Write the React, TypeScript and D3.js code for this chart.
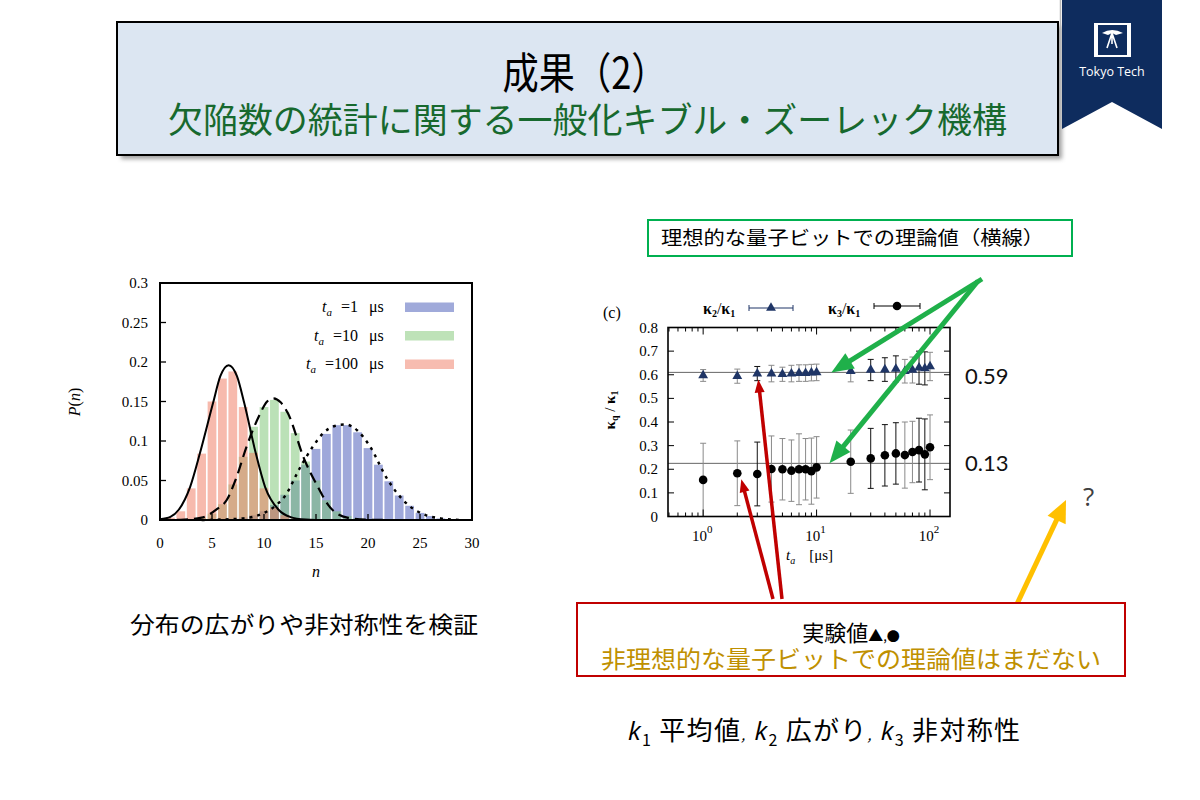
import React from 'react';
import * as d3 from 'd3';

// ---------- Left chart: histogram of defect number n ----------
const nCategories = [0,1,2,3,4,5,6,7,8,9,10,11,12,13,14,15,16,17,18,19,20,21,22,23,24,25,26,27,28,29];
const pTa1 = [0,0,0,0,0,0,0,0.001,0.003,0.006,0.011,0.019,0.032,0.05,0.07,0.09,0.109,0.12,0.12,0.111,0.091,0.07,0.049,0.031,0.018,0.009,0.005,0.002,0.001,0];
const pTa10 = [0,0,0,0.001,0.003,0.008,0.02,0.045,0.08,0.118,0.143,0.152,0.137,0.11,0.074,0.05,0.025,0.011,0.005,0.002,0.001,0,0,0,0,0,0,0,0,0];
const pTa100 = [0,0.003,0.011,0.04,0.084,0.15,0.179,0.188,0.143,0.085,0.04,0.016,0.006,0.002,0,0,0,0,0,0,0,0,0,0,0,0,0,0,0,0];
const legendTa = ['1', '10', '100'];
const histTicksX = [0, 5, 10, 15, 20, 25, 30];
const histTicksY = [0, 0.05, 0.1, 0.15, 0.2, 0.25, 0.3];

// theory curves
const fit100N = [0, 1, 1.8, 2.9, 3.85, 5.1, 5.8, 6.6, 7.4, 8.1, 9.2, 10.1, 11.4, 12.5, 14, 15];
const fit100P = [0.001, 0.004, 0.013, 0.042, 0.085, 0.148, 0.182, 0.196, 0.182, 0.148, 0.085, 0.042, 0.013, 0.004, 0.0005, 0];
const fit10N = [0, 2, 4, 5.5, 6.4, 7.3, 8.3, 9.5, 10.3, 10.9, 11.6, 12.3, 13.9, 15.1, 16.3, 18, 20, 22];
const fit10P = [0, 0.0003, 0.003, 0.014, 0.025, 0.052, 0.092, 0.131, 0.15, 0.154, 0.149, 0.135, 0.076, 0.044, 0.017, 0.003, 0.0005, 0];
const fit1N = [4, 8, 10, 11, 12, 13.5, 14.7, 15.7, 16.8, 17.8, 19, 20.2, 21.8, 23.7, 25.6, 27, 29];
const fit1P = [0, 0.002, 0.009, 0.017, 0.03, 0.067, 0.093, 0.11, 0.119, 0.121, 0.113, 0.093, 0.053, 0.021, 0.006, 0.002, 0];

// ---------- Right chart: cumulant ratios vs t_a ----------
const taValues = [1,2,3,4,5,6,7,8,9,10,20,30,40,50,60,70,80,90,100];
const k2Ratio = [0.597,0.594,0.605,0.605,0.602,0.605,0.607,0.607,0.609,0.61,0.615,0.62,0.622,0.625,0.615,0.62,0.63,0.627,0.635];
const k2Err = [0.025,0.03,0.03,0.035,0.03,0.035,0.035,0.035,0.035,0.035,0.045,0.045,0.05,0.055,0.05,0.055,0.07,0.07,0.06];
const k3Ratio = [0.155,0.183,0.18,0.201,0.2,0.194,0.2,0.2,0.192,0.208,0.232,0.246,0.259,0.267,0.26,0.273,0.281,0.263,0.293];
const k3Err = [0.155,0.137,0.135,0.14,0.13,0.13,0.15,0.13,0.14,0.13,0.134,0.127,0.13,0.13,0.14,0.13,0.135,0.15,0.137];
const darkErrTa = [3, 30, 40, 50, 80, 90];
const k2Ideal = 0.61;
const k3Ideal = 0.225;
const ratioTicksY = [0, 0.1, 0.2, 0.3, 0.4, 0.5, 0.6, 0.7, 0.8];
const logMajorTicks = [1, 10, 100];
const idealLabels = ['0.59', '0.13'];

const SERIF = "'Liberation Serif','DejaVu Serif',serif";
const JP = "'Noto Sans CJK JP','Noto Sans',sans-serif";
const SANS = "'Lato','Open Sans',sans-serif";

function Arrow({ x1, y1, x2, y2, color, w, hl, hw }: any) {
  const dx = x2 - x1, dy = y2 - y1;
  const L = Math.hypot(dx, dy);
  const ux = dx / L, uy = dy / L;
  const bx = x2 - ux * hl, by = y2 - uy * hl;
  const px = -uy, py = ux;
  return (
    <g>
      <line x1={x1} y1={y1} x2={bx + ux * 2} y2={by + uy * 2} stroke={color} strokeWidth={w} />
      <polygon
        points={`${x2},${y2} ${bx + (px * hw) / 2},${by + (py * hw) / 2} ${bx - (px * hw) / 2},${by - (py * hw) / 2}`}
        fill={color}
      />
    </g>
  );
}

function Histogram() {
  const xH = d3.scaleLinear().domain([0, 30]).range([160, 472]);
  const yH = d3.scaleLinear().domain([0, 0.3]).range([520, 283]);
  const bw = (xH(1) - xH(0)) * 0.84;
  const series = [
    { p: pTa1, fill: 'rgba(100,114,196,0.62)' },
    { p: pTa10, fill: 'rgba(120,196,112,0.5)' },
    { p: pTa100, fill: 'rgba(240,118,92,0.5)' },
  ];
  const swatch = ['rgb(160,170,218)', 'rgb(190,226,184)', 'rgb(247,188,176)'];
  const line = d3
    .line<[number, number]>()
    .x((d) => xH(d[0]))
    .y((d) => yH(d[1]))
    .curve(d3.curveMonotoneX);
  const zip = (a: number[], b: number[]) => a.map((v, i) => [v, b[i]] as [number, number]);
  return (
    <g>
      {series.map((s, si) => (
        <g key={si}>
          {nCategories.map((n, i) =>
            s.p[i] > 0 ? (
              <rect key={n} x={xH(n) - bw / 2} y={yH(s.p[i])} width={bw} height={yH(0) - yH(s.p[i])} fill={s.fill} />
            ) : null
          )}
        </g>
      ))}
      <path d={line(zip(fit100N, fit100P)) || ''} fill="none" stroke="#000" strokeWidth={2} />
      <path d={line(zip(fit10N, fit10P)) || ''} fill="none" stroke="#000" strokeWidth={2.2} strokeDasharray="11 6" />
      <path d={line(zip(fit1N, fit1P)) || ''} fill="none" stroke="#000" strokeWidth={2.4} strokeDasharray="3 5" />
      {histTicksY.slice(1, -1).map((v) => (
        <line key={'ty' + v} x1={xH(0)} x2={xH(0) + 6} y1={yH(v)} y2={yH(v)} stroke="#000" strokeWidth={1.3} />
      ))}
      {histTicksX.slice(1, -1).map((v) => (
        <line key={'tx' + v} x1={xH(v)} x2={xH(v)} y1={yH(0)} y2={yH(0) - 6} stroke="#000" strokeWidth={1.3} />
      ))}
      <rect x={xH(0)} y={yH(0.3)} width={xH(30) - xH(0)} height={yH(0) - yH(0.3)} fill="none" stroke="#000" strokeWidth={2} />
      {histTicksY.map((v) => (
        <text key={'ly' + v} x={148} y={yH(v) + 5} textAnchor="end" fontFamily={SERIF} fontSize={15}>
          {v === 0 ? '0' : String(v)}
        </text>
      ))}
      {histTicksX.map((v) => (
        <text key={'lx' + v} x={xH(v)} y={548} textAnchor="middle" fontFamily={SERIF} fontSize={15}>
          {v}
        </text>
      ))}
      <text transform="translate(80,402) rotate(-90)" textAnchor="middle" fontFamily={SERIF} fontSize={16}>
        <tspan fontStyle="italic">P</tspan>(<tspan fontStyle="italic">n</tspan>)
      </text>
      <text x={316} y={577} textAnchor="middle" fontFamily={SERIF} fontSize={16} fontStyle="italic">
        n
      </text>
      {legendTa.map((t, i) => {
        const yb = 312 + i * 28.5;
        return (
          <g key={t}>
            <text x={358} y={yb} textAnchor="end" fontFamily={SERIF} fontSize={16}>
              <tspan fontStyle="italic">t</tspan>
              <tspan fontStyle="italic" fontSize={11} dy={4}>a</tspan>
              <tspan dy={-4} dx={9}>={t}</tspan>
            </text>
            <text x={369} y={yb} fontFamily={SERIF} fontSize={16}>μs</text>
            <rect x={405} y={yb - 9.5} width={49} height={9.5} fill={swatch[i]} />
          </g>
        );
      })}
    </g>
  );
}

function RatioChart() {
  const xR = d3.scaleLog().domain([0.49, 150]).range([668, 950]);
  const yR = d3.scaleLinear().domain([0, 0.8]).range([516.5, 327.5]);
  const x0 = xR.range()[0], x1 = xR.range()[1];
  const y0 = yR(0), y1 = yR(0.8);
  const logTicks = xR.ticks();
  const isMajor = (v: number) => logMajorTicks.some((m) => Math.abs(m - v) < 1e-9);
  const tri = d3.symbol(d3.symbolTriangle, 42)() || '';
  const errColor = (t: number) => (darkErrTa.includes(t) ? '#111' : '#8a8a8a');
  const ErrBar = ({ x, y, e, c }: any) => {
    const top = Math.max(yR(y + e), y1);
    const bot = Math.min(yR(y - e), y0);
    return (
      <g stroke={c} strokeWidth={1}>
        <line x1={x} x2={x} y1={top} y2={bot} />
        {yR(y + e) >= y1 && <line x1={x - 3} x2={x + 3} y1={top} y2={top} />}
        {yR(y - e) <= y0 && <line x1={x - 3} x2={x + 3} y1={bot} y2={bot} />}
      </g>
    );
  };
  return (
    <g>
      <line x1={x0} x2={x1} y1={yR(k2Ideal)} y2={yR(k2Ideal)} stroke="#666" strokeWidth={1} />
      <line x1={x0} x2={x1} y1={yR(k3Ideal)} y2={yR(k3Ideal)} stroke="#666" strokeWidth={1} />
      {taValues.map((t, i) => (
        <g key={'e' + t}>
          <ErrBar x={xR(t)} y={k2Ratio[i]} e={k2Err[i]} c={errColor(t)} />
          <ErrBar x={xR(t)} y={k3Ratio[i]} e={k3Err[i]} c={errColor(t)} />
        </g>
      ))}
      {taValues.map((t, i) => (
        <path key={'t' + t} d={tri} transform={`translate(${xR(t)},${yR(k2Ratio[i])})`} fill="#1f3566" />
      ))}
      {taValues.map((t, i) => (
        <circle key={'c' + t} cx={xR(t)} cy={yR(k3Ratio[i])} r={4.3} fill="#000" />
      ))}
      {logTicks.map((v, i) => {
        const L = isMajor(v) ? 7 : 4;
        return (
          <g key={'lt' + i} stroke="#000" strokeWidth={1}>
            <line x1={xR(v)} x2={xR(v)} y1={y0} y2={y0 - L} />
            <line x1={xR(v)} x2={xR(v)} y1={y1} y2={y1 + L} />
          </g>
        );
      })}
      {ratioTicksY.slice(1, -1).map((v) => (
        <g key={'yt' + v} stroke="#000" strokeWidth={1}>
          <line x1={x0} x2={x0 + 6} y1={yR(v)} y2={yR(v)} />
          <line x1={x1} x2={x1 - 6} y1={yR(v)} y2={yR(v)} />
        </g>
      ))}
      <rect x={x0} y={y1} width={x1 - x0} height={y0 - y1} fill="none" stroke="#000" strokeWidth={1.6} />
      {ratioTicksY.map((v) => (
        <text key={'yl' + v} x={658} y={yR(v) + 5} textAnchor="end" fontFamily={SERIF} fontSize={15}>
          {v === 0 ? '0' : String(v)}
        </text>
      ))}
      {logMajorTicks.map((v) => (
        <text key={'xl' + v} x={xR(v) - 1} y={541} textAnchor="middle" fontFamily={SERIF} fontSize={15}>
          10<tspan dy={-8} fontSize={11}>{Math.round(Math.log10(v))}</tspan>
        </text>
      ))}
      <text x={603} y={318} fontFamily={SERIF} fontSize={16}>(c)</text>
      <text x={703} y={314} fontFamily={SERIF} fontSize={16} fontWeight="bold">
        κ<tspan fontSize={10} dy={3}>2</tspan>
        <tspan dy={-3} fontWeight="normal">/</tspan>κ<tspan fontSize={10} dy={3}>1</tspan>
      </text>
      <g stroke="#1f3566" strokeWidth={1}>
        <line x1={749} x2={793} y1={308} y2={308} />
        <line x1={749} x2={749} y1={305} y2={311} />
        <line x1={793} x2={793} y1={305} y2={311} />
      </g>
      <path d={tri} transform="translate(771,308)" fill="#1f3566" />
      <text x={828} y={314} fontFamily={SERIF} fontSize={16} fontWeight="bold">
        κ<tspan fontSize={10} dy={3}>3</tspan>
        <tspan dy={-3} fontWeight="normal">/</tspan>κ<tspan fontSize={10} dy={3}>1</tspan>
      </text>
      <g stroke="#000" strokeWidth={1}>
        <line x1={874} x2={920} y1={306} y2={306} />
        <line x1={874} x2={874} y1={303} y2={309} />
        <line x1={920} x2={920} y1={303} y2={309} />
      </g>
      <circle cx={897} cy={306} r={4.3} fill="#000" />
      <text transform="translate(615,410) rotate(-90)" textAnchor="middle" fontFamily={SERIF} fontSize={15} fontWeight="bold">
        κ<tspan fontSize={10} dy={3}>q</tspan>
        <tspan dy={-3} fontWeight="normal"> / </tspan>κ<tspan fontSize={10} dy={3}>1</tspan>
      </text>
      <text x={786} y={560} fontFamily={SERIF} fontSize={15}>
        <tspan fontStyle="italic">t</tspan>
        <tspan fontStyle="italic" fontSize={10} dy={4}>a</tspan>
        <tspan dy={-4} dx={14}>[μs]</tspan>
      </text>
      <text x={965} y={384} fontFamily={SANS} fontSize={22} fill="#111">{idealLabels[0]}</text>
      <text x={965} y={471} fontFamily={SANS} fontSize={22} fill="#111">{idealLabels[1]}</text>
      <Arrow x1={982} y1={279} x2={xR(13.5)} y2={yR(k2Ideal)} color="#1fb04a" w={5} hl={22} hw={18} />
      <Arrow x1={978} y1={281} x2={xR(13)} y2={yR(k3Ideal)} color="#1fb04a" w={5} hl={22} hw={18} />
      <Arrow x1={782} y1={599} x2={xR(3) + 1} y2={yR(k2Ratio[2]) + 6} color="#c00000" w={3.5} hl={13} hw={10} />
      <Arrow x1={773} y1={599} x2={xR(2) + 4} y2={yR(k3Ratio[1]) + 6} color="#c00000" w={3.5} hl={13} hw={10} />
    </g>
  );
}

function Logo() {
  return (
    <g>
      <line x1={1060.5} x2={1060.5} y1={0} y2={129} stroke="#b8b8b8" strokeWidth={1.5} />
      <polygon points="1062,0 1162,0 1162,129 1112,102 1062,129" fill="#0e2c5e" />
      <rect x={1094} y={23} width={37} height={34} fill="#fff" />
      <rect x={1098} y={25} width={29} height={30} fill="#0e2c5e" />
      <path d="M1102,33 Q1112,27 1123,33 L1116,35 L1112,33 L1108,35 Z" fill="#fff" />
      <path d="M1112,33 L1107,48 M1112,33 L1117,48 M1112,33 L1112,44" stroke="#fff" strokeWidth={1.6} fill="none" />
      <text x={1112} y={76} textAnchor="middle" fontFamily="'Open Sans',sans-serif" fontSize={12.5} fill="#fff">
        Tokyo Tech
      </text>
    </g>
  );
}

export default function App() {
  return (
    <div style={{ position: 'absolute', left: 0, top: 0 }}>
      <svg width={1200} height={800} viewBox="0 0 1200 800" style={{ display: 'block', background: '#fff' }}>
        <defs>
          <filter id="blur" x="-5%" y="-5%" width="110%" height="120%">
            <feGaussianBlur stdDeviation="2" />
          </filter>
        </defs>
        <rect width={1200} height={800} fill="#fff" />
        <rect x={121} y={26} width={941} height={133} fill="#8a8a8a" filter="url(#blur)" opacity={0.8} />
        <rect x={117} y={22} width={941} height={133} fill="#dce6f2" stroke="#000" strokeWidth={2} />
        <text x={585} y={89} textAnchor="middle" fontFamily={JP} fontSize={43} fontWeight={400} textLength={165} lengthAdjust="spacingAndGlyphs" fill="#000">
          成果（2）
        </text>
        <text x={168} y={133} fontFamily={JP} fontSize={35} fontWeight={400} textLength={839} lengthAdjust="spacingAndGlyphs" fill="#17692e">
          欠陥数の統計に関する一般化キブル・ズーレック機構
        </text>
        <Logo />
        <Histogram />
        <text x={130} y={633} fontFamily={JP} fontSize={23} textLength={348} lengthAdjust="spacingAndGlyphs" fill="#000">
          分布の広がりや非対称性を検証
        </text>
        <rect x={648} y={220} width={424} height={36} fill="#fff" stroke="#00b050" strokeWidth={2} />
        <text x={661} y={245} fontFamily={JP} fontSize={19} textLength={383} lengthAdjust="spacingAndGlyphs" fill="#000">
          理想的な量子ビットでの理論値（横線）
        </text>
        <RatioChart />
        <Arrow x1={1008} y1={623} x2={1066} y2={500} color="#ffc000" w={5} hl={22} hw={20} />
        <text x={1083} y={506} fontFamily="'Open Sans',sans-serif" fontSize={26} fill="#404040">?</text>
        <rect x={577} y={603} width={548} height={73} fill="#fff" stroke="#c00000" strokeWidth={2} />
        <text x={851} y={641} textAnchor="middle" fontFamily={JP} fontSize={22} fill="#000">
          実験値<tspan fontSize={15}>▲</tspan><tspan fontSize={13}>,●</tspan>
        </text>
        <text x={851} y={668} textAnchor="middle" fontFamily={JP} fontSize={24} textLength={500} lengthAdjust="spacingAndGlyphs" fill="#bf9000">
          非理想的な量子ビットでの理論値はまだない
        </text>
        <text x={628} y={740} fontFamily={JP} fontSize={26} textLength={392} lengthAdjust="spacing" fill="#000">
          <tspan fontStyle="italic" fontFamily="'Open Sans',sans-serif">k</tspan>
          <tspan fontSize={16} dy={6}>1</tspan>
          <tspan dy={-6}> 平均値</tspan>
          <tspan fontStyle="italic" fontSize={14}>,</tspan>
          <tspan fontStyle="italic" fontFamily="'Open Sans',sans-serif"> k</tspan>
          <tspan fontSize={16} dy={6}>2</tspan>
          <tspan dy={-6}> 広がり</tspan>
          <tspan fontStyle="italic" fontSize={14}>,</tspan>
          <tspan fontStyle="italic" fontFamily="'Open Sans',sans-serif"> k</tspan>
          <tspan fontSize={16} dy={6}>3</tspan>
          <tspan dy={-6}> 非対称性</tspan>
        </text>
      </svg>
    </div>
  );
}
